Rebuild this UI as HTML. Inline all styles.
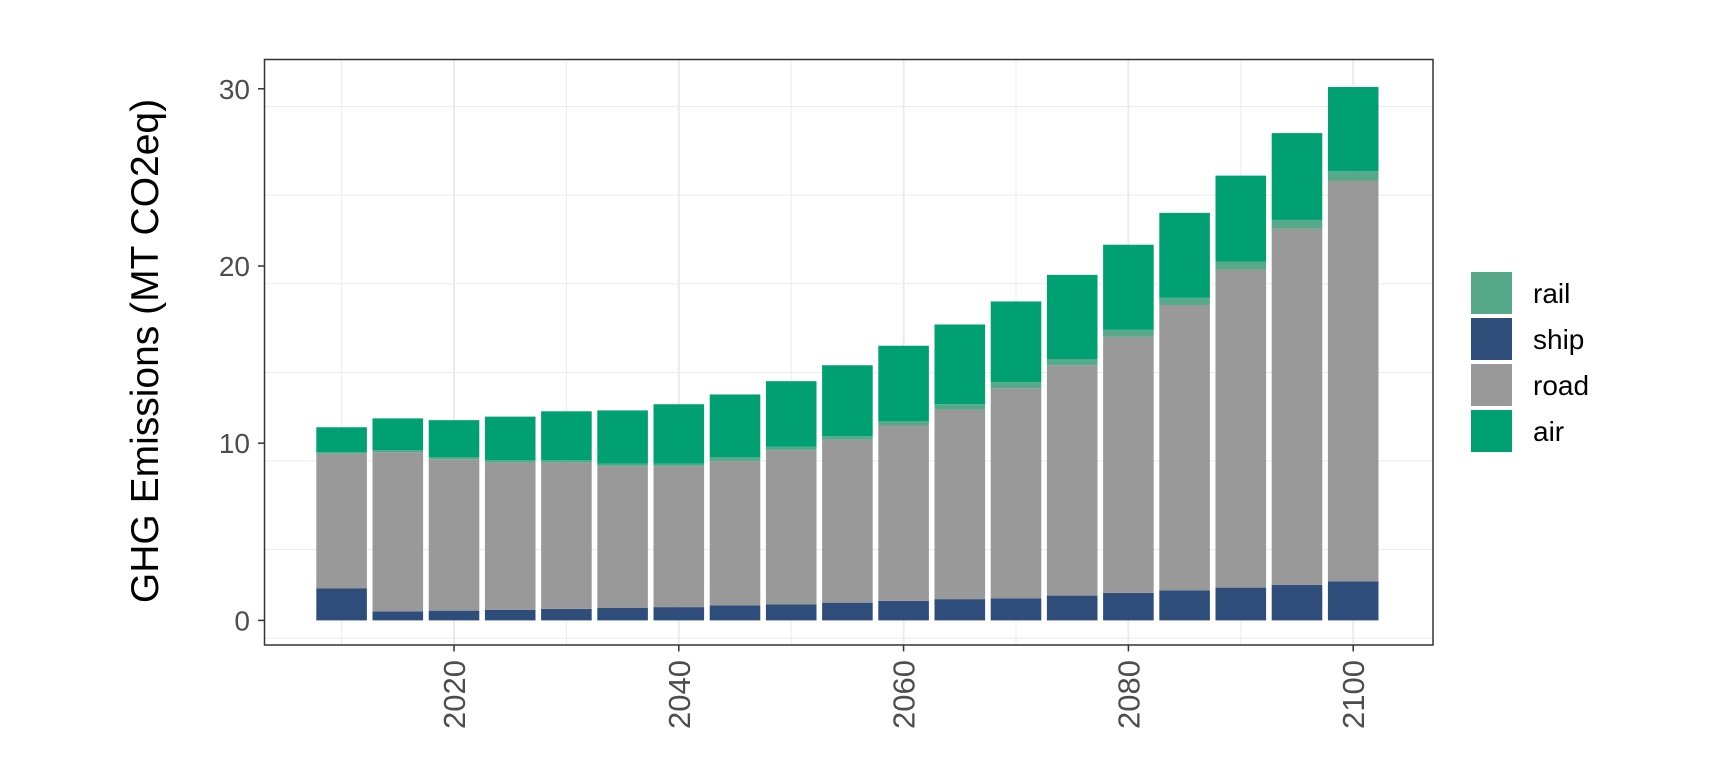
<!DOCTYPE html>
<html><head><meta charset="utf-8"><style>
html,body{margin:0;padding:0;background:#fff;}
svg{display:block;font-family:"Liberation Sans",Arial,sans-serif;}
</style></head><body>
<svg id="chart" width="1728" height="768" viewBox="0 0 1728 768" xmlns="http://www.w3.org/2000/svg">
<rect x="0" y="0" width="1728" height="768" fill="#fff"/>
<g id="grid"></g>
<g id="bars"></g>
<rect x="264.5" y="59.5" width="1168.5" height="585.5" fill="none" stroke="#333" stroke-width="1.5"/>
<g id="axes"></g>
<text x="0" y="0" transform="translate(158,351) rotate(-90)" text-anchor="middle" font-size="39" fill="#000">GHG Emissions (MT CO2eq)</text>
<g id="legend"></g>
</svg>
<script>
const years=[2010,2015,2020,2025,2030,2035,2040,2045,2050,2055,2060,2065,2070,2075,2080,2085,2090,2095,2100];
const ship=[1.8,0.5,0.55,0.6,0.65,0.7,0.75,0.85,0.9,1.0,1.1,1.2,1.25,1.4,1.55,1.7,1.85,2.0,2.2];
const road=[7.6,9.0,8.55,8.3,8.25,8.0,7.95,8.15,8.7,9.2,9.9,10.7,11.85,13.0,14.45,16.1,17.95,20.1,22.6];
const rail=[0.1,0.1,0.1,0.15,0.15,0.15,0.15,0.2,0.2,0.2,0.25,0.3,0.35,0.35,0.4,0.4,0.45,0.5,0.55];
const air=[1.4,1.8,2.1,2.45,2.75,3.0,3.35,3.55,3.7,4.0,4.25,4.5,4.55,4.75,4.8,4.8,4.85,4.9,4.75];
const yTicks=[0,10,20,30];
const xTicks=[2020,2040,2060,2080,2100];
const seriesNames=["rail","ship","road","air"];
const colors={rail:"#56A98A",ship:"#2E4D7B",road:"#999999",air:"#00A072"};
const NS="http://www.w3.org/2000/svg";
const L=264.5,R=1433,T=59.5,B=645;
const xMin=2003.14,xMax=2107.1,yZero=620.4,yPer=17.72;
const x=v=>L+(v-xMin)/(xMax-xMin)*(R-L);
const y=v=>yZero-v*yPer;
function mk(tag,attrs,parent){const e=document.createElementNS(NS,tag);for(const k in attrs)e.setAttribute(k,attrs[k]);parent.appendChild(e);return e;}
const grid=document.getElementById('grid'),bars=document.getElementById('bars'),axes=document.getElementById('axes'),legend=document.getElementById('legend');
mk('rect',{x:L,y:T,width:R-L,height:B-T,fill:'#fff'},grid);
for(let v=-1;v<=33;v+=5){if(y(v)<T||y(v)>B)continue;const ln=mk('line',{x1:L,x2:R,y1:y(v),y2:y(v),stroke:'#ebebeb','stroke-width':yTicks.includes(v)?2:1},grid);

}
for(let v=2010;v<=2100;v+=10){const ln=mk('line',{x1:x(v),x2:x(v),y1:T,y2:B,stroke:'#ebebeb','stroke-width':xTicks.includes(v)?2:1},grid);

}
const bw=0.9*5*(R-L)/(xMax-xMin);
years.forEach((yr,i)=>{
  let base=0;
  [["ship",ship],["road",road],["rail",rail],["air",air]].forEach(([n,arr])=>{
    const v=arr[i];
    const r=mk('rect',{x:x(yr)-bw/2,y:y(base+v),width:bw,height:v*yPer,fill:colors[n]},bars);
    
    
    base+=v;
  });
});
yTicks.forEach(v=>{
  mk('line',{x1:258,x2:264.5,y1:y(v),y2:y(v),stroke:'#333','stroke-width':1.5},axes);
  const t=mk('text',{x:250,y:y(v)+10,'text-anchor':'end','font-size':28,fill:'#4d4d4d'},axes);
  t.textContent=v;
  
  
});
xTicks.forEach(v=>{
  mk('line',{x1:x(v),x2:x(v),y1:645,y2:651.5,stroke:'#333','stroke-width':1.5},axes);
  const t=mk('text',{x:0,y:0,transform:`translate(${x(v)+11},660) rotate(-90)`,'text-anchor':'end','font-size':31,fill:'#4d4d4d'},axes);
  t.textContent=v;
  
  
});
seriesNames.forEach((n,i)=>{
  const ky=272+i*46;
  const r=mk('rect',{x:1471,y:ky,width:41,height:42,fill:colors[n]},legend);
  
  
  const t=mk('text',{x:1533,y:ky+31,'font-size':28,fill:'#000'},legend);
  t.textContent=n;
  
  
});
</script>
</body></html>
